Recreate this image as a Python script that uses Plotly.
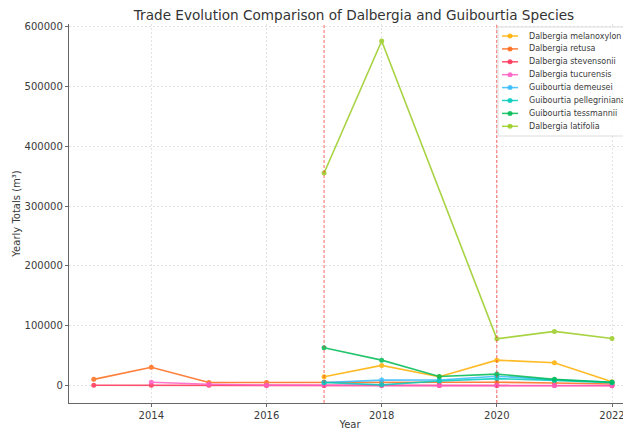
import plotly.graph_objects as go

years = list(range(2013, 2023))

# Values (m³) per year 2013..2022; None = no data
dalbergia_melanoxylon = [None, None, None, None, 15000, 34000, 15000, 42800, 38300, 6700]
dalbergia_retusa = [10700, 31000, 5500, 5500, 6500, 6000, 6000, 6000, 4700, 3000]
dalbergia_stevensonii = [800, 800, 700, 600, 600, 600, 600, 600, 500, 500]
dalbergia_tucurensis = [None, 6000, 2500, 1000, 500, 300, 300, 300, 300, 200]
guibourtia_demeusei = [None, None, None, None, 5500, 9500, 9700, 16000, 10000, 6000]
guibourtia_pellegriniana = [None, None, None, None, 5500, 1500, 8000, 12000, 9000, 5000]
guibourtia_tessmannii = [None, None, None, None, 63300, 42800, 15600, 19500, 10700, 6000]
dalbergia_latifolia_years = [2017, 2018, 2020, 2021, 2022]
dalbergia_latifolia = [355000, 575400, 78400, 90700, 79000]

event_years = [2017, 2020]

series_names = ["Dalbergia melanoxylon", "Dalbergia retusa", "Dalbergia stevensonii",
                "Dalbergia tucurensis", "Guibourtia demeusei", "Guibourtia pellegriniana",
                "Guibourtia tessmannii", "Dalbergia latifolia"]
series_x = [years] * 7 + [dalbergia_latifolia_years]
series_y = [dalbergia_melanoxylon, dalbergia_retusa, dalbergia_stevensonii, dalbergia_tucurensis,
            guibourtia_demeusei, guibourtia_pellegriniana, guibourtia_tessmannii, dalbergia_latifolia]
colors = ["#FFB000", "#FF6A1A", "#FF3355", "#FF5EC4", "#33BBFF", "#00CCBB", "#00BB55", "#99CC22"]

# The page body has an 8px default margin, so the figure is drawn at (8, 8).
OFF = 8
W, H = 631 - OFF, 432 - OFF
ML, MR, MT, MB = 69 - OFF, 0, 24 - OFF, 432 - 403
PW, PH = W - ML - MR, H - MT - MB


def px_x(p):  # window pixel -> paper x
    return (p - OFF - ML) / PW


def px_y(p):  # window pixel -> paper y
    return (H - MB - (p - OFF)) / PH


fig = go.Figure()
for name, xs, ys, color in zip(series_names, series_x, series_y, colors):
    fig.add_trace(go.Scatter(
        x=xs, y=ys, name=name, mode="lines+markers",
        line=dict(color=color, width=1.6),
        marker=dict(color=color, size=5),
        opacity=0.85, showlegend=False,
    ))

for yr in event_years:
    fig.add_vline(x=yr, line=dict(color="rgba(255,40,40,0.7)", width=1, dash="3px,2px"))

font = "DejaVu Sans"

# Legend (box + sample lines + text, matplotlib-like spacing)
fig.add_shape(type="rect", xref="paper", yref="paper", x0=px_x(498), x1=px_x(640),
              y0=px_y(136), y1=px_y(27), fillcolor="rgba(255,255,255,0.85)",
              line=dict(color="#dddddd", width=1), layer="above")
for i, (name, color) in enumerate(zip(series_names, colors)):
    yc = 36 + 12.9 * i
    fig.add_shape(type="line", xref="paper", yref="paper", x0=px_x(502), x1=px_x(518),
                  y0=px_y(yc), y1=px_y(yc), line=dict(color=color, width=1.5), layer="above",
                  opacity=0.85)
    fig.add_shape(type="circle", xref="paper", yref="paper", x0=px_x(507.5), x1=px_x(512.5),
                  y0=px_y(yc + 2.5), y1=px_y(yc - 2.5), fillcolor=color,
                  line=dict(color=color, width=0), layer="above", opacity=0.85)
    fig.add_annotation(xref="paper", yref="paper", x=px_x(527), y=px_y(yc),
                       xanchor="left", yanchor="middle", text=name, showarrow=False,
                       font=dict(family=font, size=8, color="#3a3a3a"))

fig.update_layout(
    width=W, height=H,
    margin=dict(l=ML, r=MR, t=MT, b=MB, autoexpand=False),
    paper_bgcolor="white", plot_bgcolor="white",
    title=dict(text="Trade Evolution Comparison of Dalbergia and Guibourtia Species",
               x=(354 - OFF) / W, xanchor="center", xref="container",
               y=1 - (15 - OFF) / H, yanchor="middle",
               font=dict(family=font, size=13.6, color="#333333")),
    font=dict(family=font, size=10, color="#3a3a3a"),
    showlegend=False,
    xaxis=dict(range=[2012.57, 2022.33], tickmode="array",
               tickvals=[2014, 2016, 2018, 2020, 2022],
               showgrid=True, gridcolor="#e2e2e2", griddash="2px,2px", gridwidth=1,
               showline=True, linecolor="#666666", linewidth=1.4,
               ticks="outside", ticklen=3, tickcolor="#666666",
               zeroline=False, automargin=False,
               title=dict(text="Year", standoff=0, font=dict(size=10, color="#3a3a3a"))),
    yaxis=dict(range=[-28750, 603750], tickmode="array",
               tickvals=[0, 100000, 200000, 300000, 400000, 500000, 600000],
               tickformat="d",
               showgrid=True, gridcolor="#e2e2e2", griddash="2px,2px", gridwidth=1,
               showline=True, linecolor="#666666", linewidth=1.4,
               ticks="outside", ticklen=3, tickcolor="#666666",
               zeroline=False, automargin=False,
               title=dict(text="Yearly Totals (m³)", standoff=2, font=dict(size=10, color="#3a3a3a"))),
)

fig.write_html("out.html")
